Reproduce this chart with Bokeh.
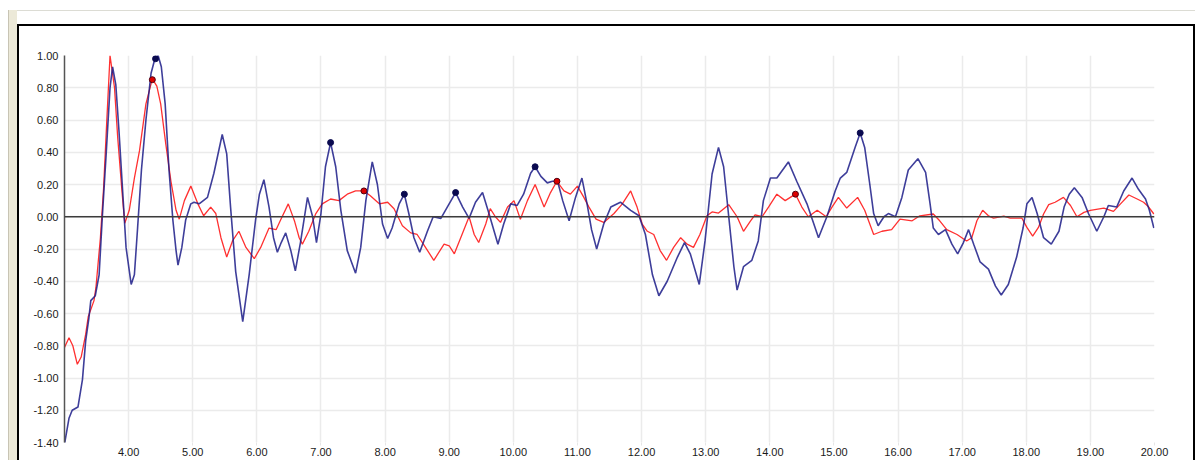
from bokeh.plotting import figure
from bokeh.models import Range1d, FixedTicker, NumeralTickFormatter, Span, InlineStyleSheet
from bokeh.embed import file_html
from bokeh.resources import INLINE

# ---- data ----
blue_x = [3.00, 3.07, 3.12, 3.21, 3.28, 3.33, 3.38, 3.41, 3.48, 3.54, 3.59, 3.65, 3.71, 3.75, 3.80, 3.85,
          3.91, 3.96, 4.04, 4.09, 4.14, 4.20, 4.27, 4.35, 4.41, 4.46, 4.51, 4.57, 4.63, 4.69, 4.74, 4.77,
          4.83, 4.89, 4.97, 5.02, 5.10, 5.23, 5.33, 5.46, 5.53, 5.59, 5.67, 5.78, 5.88, 5.98, 6.04, 6.11,
          6.19, 6.26, 6.32, 6.38, 6.45, 6.53, 6.60, 6.68, 6.79, 6.87, 6.93, 7.00, 7.07, 7.15, 7.23, 7.31,
          7.41, 7.54, 7.62, 7.70, 7.80, 7.88, 7.96, 8.04, 8.11, 8.22, 8.30, 8.37, 8.45, 8.54, 8.66, 8.75,
          8.87, 8.97, 9.10, 9.21, 9.31, 9.41, 9.52, 9.62, 9.76, 9.85, 9.96, 10.06, 10.16, 10.27, 10.34,
          10.43, 10.53, 10.61, 10.69, 10.77, 10.87, 10.97, 11.07, 11.15, 11.22, 11.30, 11.41, 11.52, 11.67,
          11.83, 11.96, 12.06, 12.17, 12.27, 12.40, 12.56, 12.67, 12.76, 12.90, 12.99, 13.10, 13.20, 13.28,
          13.36, 13.44, 13.49, 13.59, 13.72, 13.82, 13.90, 14.01, 14.11, 14.29, 14.42, 14.58, 14.76, 14.89,
          15.02, 15.10, 15.20, 15.33, 15.41, 15.48, 15.56, 15.62, 15.69, 15.78, 15.85, 15.96, 16.06, 16.16,
          16.31, 16.43, 16.50, 16.55, 16.63, 16.74, 16.84, 16.93, 17.02, 17.10, 17.18, 17.28, 17.41, 17.52,
          17.61, 17.72, 17.85, 17.95, 18.01, 18.09, 18.17, 18.27, 18.39, 18.51, 18.59, 18.67, 18.75, 18.87,
          18.97, 19.10, 19.21, 19.28, 19.41, 19.52, 19.65, 19.75, 19.86, 19.92, 19.99]
blue_y = [-1.41, -1.25, -1.20, -1.18, -1.01, -0.77, -0.63, -0.52, -0.49, -0.36, 0.00, 0.39, 0.80, 0.93, 0.82, 0.53,
          0.14, -0.19, -0.42, -0.36, -0.07, 0.29, 0.60, 0.89, 0.98, 1.00, 0.93, 0.70, 0.29, -0.02, -0.21, -0.30,
          -0.19, -0.02, 0.08, 0.09, 0.08, 0.12, 0.27, 0.51, 0.39, 0.06, -0.34, -0.65, -0.36, -0.02, 0.14, 0.23,
          0.06, -0.13, -0.22, -0.16, -0.10, -0.21, -0.335, -0.16, 0.12, 0.00, -0.16, 0.02, 0.31, 0.46, 0.31, 0.04,
          -0.21, -0.35, -0.19, 0.10, 0.34, 0.20, -0.045, -0.135, -0.07, 0.08, 0.14, 0.02, -0.13, -0.22, -0.09, 0.00,
          -0.01, 0.06, 0.15, 0.06, -0.01, 0.09, 0.15, 0.02, -0.17, -0.045, 0.08, 0.07, 0.14, 0.27, 0.31,
          0.25, 0.21, 0.22, 0.22, 0.10, -0.025, 0.12, 0.24, 0.08, -0.08, -0.20, -0.045, 0.06, 0.09,
          0.04, 0.006, -0.11, -0.36, -0.49, -0.40, -0.25, -0.16, -0.23, -0.42, -0.15, 0.265, 0.43, 0.31,
          0.00, -0.31, -0.455, -0.31, -0.27, -0.15, 0.10, 0.24, 0.24, 0.34, 0.22, 0.08, -0.13, 0.00,
          0.16, 0.24, 0.275, 0.43, 0.52, 0.43, 0.20, 0.02, -0.056, 0.00, 0.02, 0.00, 0.12, 0.29,
          0.36, 0.275, 0.08, -0.07, -0.11, -0.08, -0.17, -0.23, -0.16, -0.08, -0.17, -0.28, -0.325, -0.43,
          -0.485, -0.42, -0.25, -0.07, 0.08, 0.12, 0.02, -0.13, -0.17, -0.09, 0.06, 0.14, 0.18, 0.12,
          0.02, -0.09, 0.00, 0.07, 0.06, 0.16, 0.24, 0.17, 0.11, 0.04, -0.07]

red_x = [3.00, 3.07, 3.13, 3.20, 3.26, 3.33, 3.37, 3.46, 3.49, 3.56, 3.61, 3.66, 3.71, 3.78, 3.83, 3.90,
         3.94, 4.01, 4.09, 4.17, 4.27, 4.37, 4.44, 4.50, 4.58, 4.66, 4.74, 4.79, 4.87, 4.97, 5.08, 5.17,
         5.28, 5.36, 5.44, 5.53, 5.62, 5.72, 5.83, 5.96, 6.06, 6.19, 6.30, 6.37, 6.49, 6.59, 6.66, 6.71,
         6.81, 6.92, 7.02, 7.15, 7.28, 7.41, 7.54, 7.67, 7.77, 7.91, 8.04, 8.14, 8.27, 8.40, 8.50, 8.63,
         8.76, 8.92, 9.00, 9.08, 9.20, 9.31, 9.39, 9.46, 9.57, 9.64, 9.72, 9.80, 9.91, 10.01, 10.11, 10.22,
         10.34, 10.48, 10.58, 10.68, 10.79, 10.89, 11.00, 11.10, 11.18, 11.29, 11.41, 11.57, 11.70, 11.83,
         11.93, 12.01, 12.09, 12.19, 12.29, 12.39, 12.50, 12.61, 12.71, 12.81, 12.91, 13.02, 13.10, 13.20,
         13.36, 13.49, 13.59, 13.70, 13.77, 13.88, 13.98, 14.11, 14.24, 14.40, 14.50, 14.60, 14.74, 14.88,
         14.97, 15.07, 15.20, 15.37, 15.48, 15.62, 15.75, 15.90, 16.03, 16.22, 16.34, 16.55, 16.65, 16.76,
         16.92, 17.07, 17.15, 17.23, 17.32, 17.41, 17.49, 17.65, 17.75, 17.93, 18.01, 18.10, 18.19, 18.27,
         18.35, 18.45, 18.58, 18.69, 18.79, 18.90, 19.00, 19.21, 19.36, 19.47, 19.60, 19.73, 19.83, 19.91, 19.99]
red_y = [-0.81, -0.75, -0.80, -0.915, -0.87, -0.73, -0.62, -0.52, -0.44, -0.13, 0.18, 0.60, 1.00, 0.80, 0.49, 0.14,
         -0.04, 0.04, 0.24, 0.41, 0.70, 0.855, 0.81, 0.70, 0.45, 0.22, 0.04, -0.015, 0.10, 0.19, 0.08, 0.006,
         0.06, 0.02, -0.13, -0.25, -0.15, -0.09, -0.19, -0.26, -0.19, -0.07, -0.08, -0.02, 0.08, -0.03, -0.13, -0.17,
         -0.09, 0.02, 0.08, 0.11, 0.10, 0.14, 0.16, 0.16, 0.13, 0.08, 0.09, 0.05, -0.056, -0.10, -0.11, -0.19,
         -0.27, -0.17, -0.18, -0.23, -0.11, 0.00, -0.11, -0.16, -0.045, 0.05, 0.00, -0.035, 0.06, 0.10, -0.015, 0.10,
         0.20, 0.06, 0.15, 0.22, 0.16, 0.14, 0.19, 0.12, 0.06, -0.015, -0.035, 0.02, 0.08, 0.16,
         0.06, -0.045, -0.09, -0.11, -0.21, -0.27, -0.19, -0.13, -0.17, -0.19, -0.11, 0.006, 0.03, 0.023,
         0.075, 0.00, -0.09, -0.025, 0.012, 0.00, 0.06, 0.14, 0.10, 0.14, 0.06, 0.00, 0.04, 0.00,
         0.06, 0.12, 0.054, 0.12, 0.04, -0.11, -0.09, -0.08, -0.015, -0.025, 0.006, 0.017, -0.025, -0.08,
         -0.11, -0.15, -0.13, -0.025, 0.04, 0.006, -0.008, 0.004, -0.008, -0.008, -0.066, -0.12, -0.066, 0.017,
         0.075, 0.09, 0.12, 0.07, 0.00, 0.027, 0.04, 0.054, 0.033, 0.08, 0.135, 0.11, 0.09, 0.06, 0.017]

blue_peak_x = [4.42, 7.15, 8.30, 9.10, 10.34, 15.41]
blue_peak_y = [0.98, 0.46, 0.14, 0.15, 0.31, 0.52]
red_peak_x = [4.37, 7.67, 10.68, 14.40]
red_peak_y = [0.85, 0.16, 0.22, 0.14]

x_ticks = [4, 5, 6, 7, 8, 9, 10, 11, 12, 13, 14, 15, 16, 17, 18, 19, 20]
y_ticks = [-1.4, -1.2, -1.0, -0.8, -0.6, -0.4, -0.2, 0.0, 0.2, 0.4, 0.6, 0.8, 1.0]

# ---- figure ----
W, H = 1195, 460

# window chrome behind the (transparent) border area of the figure
chrome = InlineStyleSheet(css="""
:host {
  background-color: #ffffff;
  background-image:
    linear-gradient(#000000, #000000),
    linear-gradient(#000000, #000000),
    linear-gradient(#000000, #000000),
    linear-gradient(#dcdcd4, #dcdcd4),
    linear-gradient(#c8c4b4, #c8c4b4),
    linear-gradient(#ECE9D8, #ECE9D8);
  background-position:
    17px 24px,
    17px 24px,
    1193px 24px,
    17px 10px,
    8px 10px,
    9px 10px;
  background-size:
    1178px 2px,
    2px 500px,
    2px 500px,
    1180px 1px,
    1px 500px,
    8px 500px;
  background-repeat: no-repeat;
}
""")

p = figure(width=W, height=H, output_backend="svg", toolbar_location=None,
           x_range=Range1d(3, 20), y_range=Range1d(-1.4, 1.0),
           min_border_left=64, min_border_right=41, min_border_top=55, min_border_bottom=18,
           stylesheets=[chrome])
p.background_fill_color = "white"
p.border_fill_color = "white"
p.border_fill_alpha = 0
p.outline_line_color = None

FONT = "Liberation Sans"
for ax in (p.xaxis[0], p.yaxis[0]):
    ax.major_label_text_font = FONT
    ax.major_label_text_font_size = "11px"
    ax.major_label_text_color = "#1a1a1a"
    ax.minor_tick_line_color = None
    ax.major_tick_in = 0

p.xaxis.ticker = FixedTicker(ticks=x_ticks)
p.xaxis.formatter = NumeralTickFormatter(format="0.00")
p.xaxis.axis_line_color = None
p.xaxis.major_tick_out = 3
p.xaxis.major_tick_line_color = "#e6e6e6"
p.xaxis.major_label_standoff = 2

p.yaxis.ticker = FixedTicker(ticks=y_ticks)
p.yaxis.formatter = NumeralTickFormatter(format="0.00")
p.yaxis.axis_line_color = "#555555"
p.yaxis.axis_line_width = 1.5
p.yaxis.major_tick_out = 0
p.yaxis.major_tick_line_color = None
p.yaxis.major_label_standoff = 6

p.xgrid.ticker = FixedTicker(ticks=x_ticks)
p.ygrid.ticker = FixedTicker(ticks=y_ticks)
p.xgrid.grid_line_color = "#ebebeb"
p.ygrid.grid_line_color = "#ebebeb"
p.xgrid.grid_line_width = 1.5
p.ygrid.grid_line_width = 1.5

p.add_layout(Span(location=0, dimension="width", line_color="#3c3c3c", line_width=1.5))

p.line(red_x, red_y, line_color="#ff1a1a", line_width=1.3, line_alpha=0.9)
p.line(blue_x, blue_y, line_color="#1c1c88", line_width=1.6, line_alpha=0.85)

p.scatter(blue_peak_x, blue_peak_y, size=6, fill_color="#0a0a50", line_color="#0a0a50")
p.scatter(red_peak_x, red_peak_y, size=6, fill_color="#dd0000", line_color="#500010")

open("out.html", "w").write(file_html(p, INLINE))
